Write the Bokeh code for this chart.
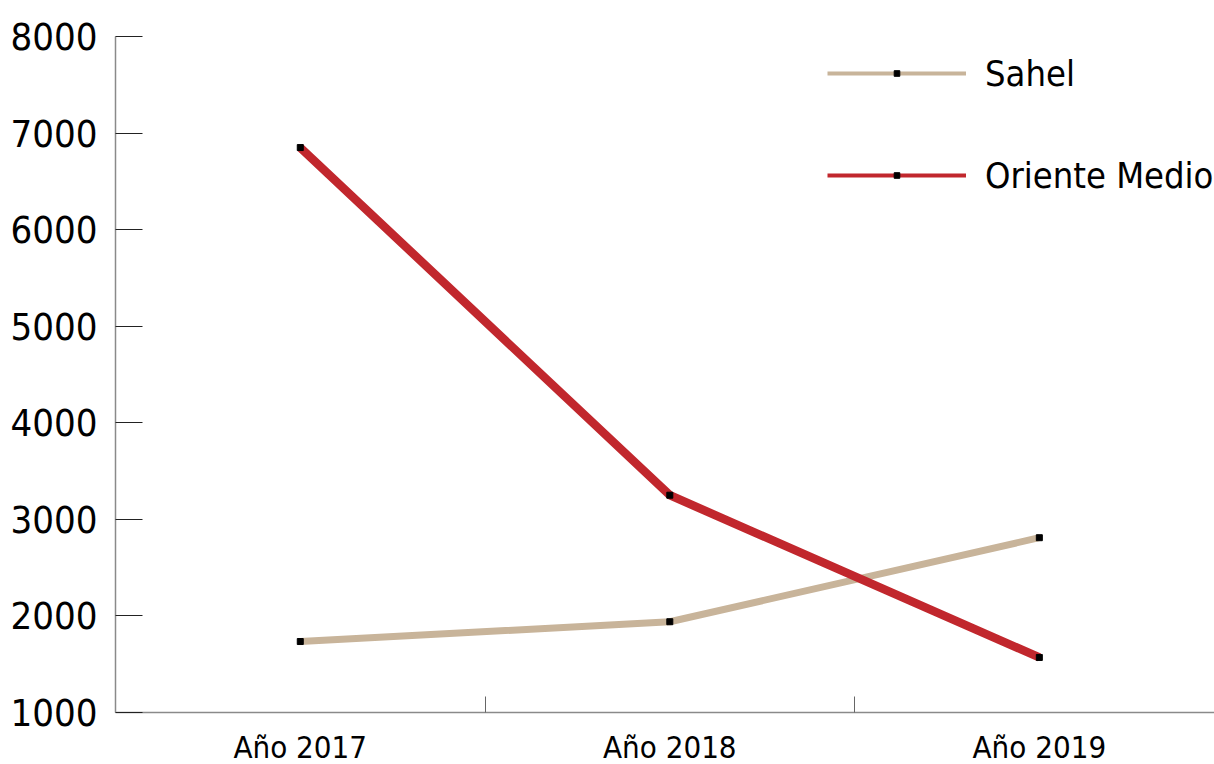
from bokeh.plotting import figure
from bokeh.models import Range1d, FixedTicker, Legend, LegendItem, ColumnDataSource
from bokeh.embed import file_html
from bokeh.resources import INLINE

categories = ["Año 2017", "Año 2018", "Año 2019"]
sahel = [1735, 1940, 2810]
oriente = [6850, 3250, 1570]
y_ticks = [1000, 2000, 3000, 4000, 5000, 6000, 7000, 8000]

FONT = "'DejaVu Sans Condensed', sans-serif"
TAN = "#C8B49A"
RED = "#C1272D"

xs = [i + 0.5 for i in range(len(categories))]
src = ColumnDataSource(dict(x=xs, sahel=sahel, oriente=oriente))
# placeholder source for legend-only glyphs (nothing is drawn in the plot)
nan = float("nan")
legsrc = ColumnDataSource(dict(x=[nan], y=[nan]))

p = figure(frame_width=1099, frame_height=676, output_backend="svg", toolbar_location=None,
           x_range=Range1d(0, 2.974), y_range=Range1d(1000, 8000),
           min_border_left=115, min_border_top=36, min_border_right=0, min_border_bottom=0)
p.outline_line_color = None
p.grid.visible = False
p.background_fill_color = "white"

p.line("x", "sahel", source=src, line_color=TAN, line_width=7, line_cap="butt")
p.scatter("x", "sahel", source=src, marker="square", size=6, fill_color="black", line_color="black")
p.line("x", "oriente", source=src, line_color=RED, line_width=8.5, line_cap="butt", line_join="miter")
p.scatter("x", "oriente", source=src, marker="square", size=6, fill_color="black", line_color="black")

# legend-only glyphs (thinner lines, small markers)
lg1 = p.line("x", "y", source=legsrc, line_color=TAN, line_width=4)
lm1 = p.scatter("x", "y", source=legsrc, marker="square", size=6, fill_color="black", line_color="black")
lg2 = p.line("x", "y", source=legsrc, line_color=RED, line_width=4)
lm2 = p.scatter("x", "y", source=legsrc, marker="square", size=6, fill_color="black", line_color="black")

# y axis
ya = p.yaxis[0]
ya.ticker = FixedTicker(ticks=y_ticks, minor_ticks=[])
ya.axis_line_color = "#8a8a8a"
ya.axis_line_width = 1.5
ya.major_tick_in = 27
ya.major_tick_out = 0
ya.major_tick_line_color = "#222222"
ya.minor_tick_line_color = None
ya.major_label_text_font = FONT
ya.major_label_text_font_size = "38px"
ya.major_label_text_color = "black"
ya.major_label_standoff = 18

# x axis
xa = p.xaxis[0]
xa.ticker = FixedTicker(ticks=xs, minor_ticks=[1, 2])
xa.major_label_overrides = {x: c for x, c in zip(xs, categories)}
xa.axis_line_color = "#8a8a8a"
xa.axis_line_width = 1.5
xa.major_tick_line_color = None
xa.minor_tick_line_color = "#666666"
xa.minor_tick_in = 16
xa.minor_tick_out = 0
xa.major_label_text_font = FONT
xa.major_label_text_font_size = "31px"
xa.major_label_text_color = "black"
xa.major_label_standoff = 10

legend = Legend(items=[LegendItem(label="Sahel", renderers=[lg1, lm1]),
                       LegendItem(label="Oriente Medio", renderers=[lg2, lm2])],
                location=(712, 507), orientation="vertical")
legend.border_line_color = None
legend.background_fill_alpha = 0
legend.padding = 0
legend.margin = 0
legend.glyph_width = 139
legend.glyph_height = 14
legend.label_height = 60
legend.spacing = 42
legend.label_standoff = 19
legend.label_text_font = FONT
legend.label_text_font_size = "36px"
legend.label_text_color = "black"
legend.label_text_baseline = "middle"
p.add_layout(legend)

open("out.html", "w").write(file_html(p, INLINE))
